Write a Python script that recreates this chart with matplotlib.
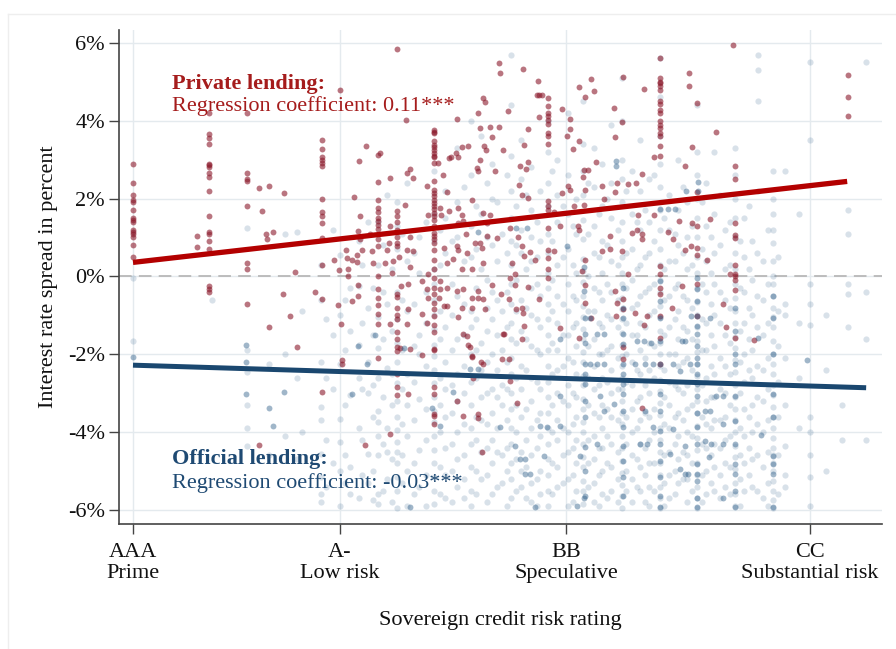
import matplotlib
matplotlib.use("Agg")
import matplotlib.pyplot as plt
from matplotlib.lines import Line2D

plt.rcParams["font.family"] = ["Liberation Serif", "DejaVu Serif"]

# x axis: sovereign rating in notches (1 = AAA), y axis: spread in percent
rating_ticks = [1.0, 7.0, 13.55, 20.62]
rating_labels = ["AAA\nPrime", "A-\nLow risk", "BB\nSpeculative", "CC\nSubstantial risk"]
spread_ticks = [6, 4, 2, 0, -2, -4, -6]
spread_labels = ["6%", "4%", "2%", "0%", "-2%", "-4%", "-6%"]

# fitted lines (end points)
private_fit_x = [1.0, 21.7]
private_fit_y = [0.36, 2.44]
official_fit_x = [1.0, 22.25]
official_fit_y = [-2.28, -2.86]

# private lending: stacked observations at one rating
private_columns = [
    (1.0, [2.9, 2.4, 2.1, 1.95, 1.9, 1.7, 1.5, 1.45, 1.4, 1.2, 1.15, 1.1, 1.0, 0.8, 0.5]),
    (3.2, [4.2, 3.65, 3.55, 3.4, 2.9, 2.85, 2.8, 2.65, 2.55, 2.2, 1.55, 1.15, 1.1, 0.9, 0.7,
           -0.25, -0.32, -0.4]),
    (4.3, [4.2, 2.65, 2.5, 2.45, 1.8, 0.35, 0.18, -0.7]),
    (6.47, [3.5, 3.27, 3.08, 2.98, 2.91, 2.83, 2.0, 1.65, 1.55, 1.38, 0.99, 0.29, -0.57, -2.96]),
    (8.1, [2.42, 1.95, 1.76, 1.65, 1.5, 1.42, 1.33, 1.21, 0.95, 0.78, 0.0, -0.33, -0.55, -0.74,
           -0.97, -1.23, -2.1]),
    (8.64, [1.67, 1.55, 1.39, 1.2, 1.0, 0.86, 0.78, -0.46, -0.53, -0.8, -1.0, -1.1, -1.44, -1.62,
            -1.81, -1.92, -2.51, -2.85, -3.05]),
    (9.73, [3.77, 3.72, 3.68, 3.47, 3.38, 3.32, 3.25, 3.17, 3.1, 3.07, 2.91, 2.44, 2.23, 2.14, 2.06,
            1.97, 1.89, 1.8, 1.72, 1.63, 1.55, 1.46, 1.29, 1.12, 1.03, 0.95, 0.86, 0.69, 0.43, 0.18,
            -0.04, -0.29, -0.46, -0.68, -0.85, -1.02, -1.25, -1.44, -1.87, -1.89, -2.85, -3.03,
            -3.54, -3.58, -3.79]),
    (13.02, [4.58, 4.38, 4.19, 4.11, 4.02, 3.91, 3.68, 3.6, 3.4, 1.93, 1.82, 1.7, 1.24, 0.69, 0.48,
             0.2, -0.05]),
    (16.28, [5.6, 5.09, 5.0, 4.96, 4.88, 4.79, 4.5, 4.43, 4.28, 4.2, 3.98, 3.9, 3.81, 3.68, 3.6,
             3.34, 3.1, 0.28, 0.05, -0.29, -0.46, -1.02, -1.57, -2.26]),
    (17.35, [4.45, 2.18, 1.29, 0.73, 0.56, -0.19, -1.02]),
    (18.44, [2.84, 2.51, 1.37, 1.07, 0.99, 0.3, 0.05, 0.01, -0.1, -0.35, -1.59]),
    (21.73, [5.18, 4.62, 4.11]),
]

# private lending: single observations, left part (AAA to A-)
private_left = [
    (2.85, 1.05), (2.85, 0.75), (4.65, 2.27), (4.95, 2.32), (5.37, 2.15), (4.73, 1.69),
    (4.85, 1.08), (5.06, 1.15), (4.87, 0.95), (5.69, 0.12), (5.34, -0.46), (5.55, -1.02),
    (4.95, -1.31), (5.74, -1.81), (4.65, -4.33), (6.28, -0.4), (7.0, 4.78), (7.75, 3.36),
    (7.56, 2.97), (7.41, 2.04), (7.58, 1.56), (7.53, 1.16), (7.87, 1.1), (7.17, 0.69),
    (7.63, 0.69), (7.92, 0.65), (6.83, 0.42), (7.34, 0.43), (7.48, 0.37), (7.95, 0.35),
    (6.98, 0.16), (7.22, 0.2), (7.58, 0.95), (7.49, 0.56), (7.19, 0.48), (7.23, 0.01),
    (7.52, -0.21), (7.52, -0.5), (7.35, -0.63), (6.94, -0.74), (7.02, -1.21), (7.05, -2.15),
    (7.05, -2.26), (7.72, -4.33),
]

# private lending: single observations, middle part (A- to BB)
private_mid = [
    (8.64, 5.83), (8.91, 4.01), (10.38, 4.04), (11.62, 5.48), (11.64, 5.22), (11.15, 4.58),
    (11.2, 4.47), (11.01, 4.19), (11.06, 3.81), (11.35, 3.85), (11.6, 3.85), (11.4, 3.58),
    (8.11, 3.12), (8.16, 3.18), (9.85, 2.91), (9.98, 2.61), (10.17, 3.04), (10.21, 3.08),
    (10.35, 3.18), (10.43, 3.07), (10.55, 3.32), (10.72, 3.34), (11.06, 3.0), (11.17, 3.34),
    (11.22, 3.24), (11.49, 2.7), (10.96, 2.78), (11.01, 2.7), (8.45, 2.53), (8.93, 2.66),
    (9.03, 2.76), (9.13, 2.53), (9.51, 2.33), (10.09, 2.18), (8.88, 1.84), (8.45, 1.29),
    (8.42, 0.86), (9.03, 1.0), (9.56, 1.59), (9.9, 1.76), (9.93, 1.59), (10.17, 1.67),
    (10.43, 1.76), (10.53, 1.59), (10.43, 1.37), (10.57, 1.42), (10.65, 1.08), (10.82, 1.97),
    (11.15, 1.63), (11.35, 1.59), (11.25, 1.37), (11.06, 0.86), (11.25, 1.03), (11.54, 0.99),
    (8.35, 0.69), (8.93, 0.69), (9.13, 0.65), (10.0, 0.73), (10.38, 0.77), (10.43, 0.67),
    (10.67, 0.6), (10.9, 0.86), (11.13, 0.73), (8.3, 0.35), (8.55, 0.39), (8.72, 0.5),
    (9.03, 0.24), (10.09, 0.35), (10.28, 0.45), (10.53, 0.18), (10.82, 0.18), (11.15, 0.35),
    (8.5, 0.09), (9.56, 0.05), (8.76, -0.25), (8.98, -0.19), (9.37, -0.12), (9.51, -0.33),
    (9.56, -0.55), (9.9, -0.12), (9.9, -0.33), (9.88, -0.55), (10.0, -0.76), (10.1, -0.76),
    (10.09, -0.29), (8.98, -0.85), (8.93, -1.23), (8.45, -1.23), (9.37, -0.96), (9.53, -1.19),
    (8.74, -1.85), (9.03, -1.87), (9.37, -2.02), (10.38, -0.38), (10.57, -0.33), (10.43, -1.04),
    (10.55, -0.8), (10.67, -1.53), (10.57, -1.49), (10.77, -1.81), (10.7, -1.77), (10.82, -0.55),
    (11.01, -0.55), (11.01, -0.38), (10.82, -0.8), (10.82, -2.04), (11.15, -0.59), (11.2, -0.85),
    (11.4, -0.21), (11.1, -2.21), (10.85, -2.62), (8.98, -3.03), (10.38, -3.21), (10.57, -3.58),
    (11.01, -3.54), (11.01, -3.64), (8.45, -4.04), (11.11, -4.5), (10.82, -2.08), (11.14, -2.26),
]

# private lending: single observations, right part (BB and below)
private_right = [
    (12.29, 5.33), (12.73, 5.01), (12.7, 4.66), (12.78, 4.66), (12.85, 4.66), (11.88, 4.26),
    (12.78, 4.09), (13.44, 4.3), (13.67, 4.04), (13.67, 3.78), (13.57, 3.61), (13.93, 4.86),
    (14.1, 4.6), (14.28, 5.07), (14.37, 4.77), (13.94, 3.49), (13.75, 3.27), (12.46, 3.79),
    (11.72, 3.25), (12.34, 3.38), (14.95, 4.32), (15.19, 5.13), (14.97, 3.58), (14.42, 2.95),
    (15.82, 4.81), (15.17, 3.97), (17.12, 5.22), (17.12, 4.89), (17.0, 2.84), (17.2, 3.32),
    (16.1, 3.08), (12.22, 2.83), (12.39, 2.76), (12.46, 2.95), (14.06, 2.74), (14.18, 2.74),
    (14.04, 2.55), (15.02, 2.4), (15.36, 2.37), (15.57, 2.4), (15.75, 2.64), (13.62, 2.31),
    (13.67, 2.23), (13.43, 2.14), (14.6, 2.31), (14.64, 1.99), (14.97, 2.16), (14.1, 2.23),
    (12.2, 2.36), (12.27, 2.08), (12.46, 2.01), (13.19, 1.65), (13.77, 1.8), (14.06, 1.84),
    (15.65, 1.59), (16.1, 1.57), (16.83, 1.42), (11.93, 1.24), (12.17, 1.01), (13.38, 1.3),
    (13.91, 1.29), (13.93, 1.18), (14.83, 1.03), (15.46, 1.12), (15.6, 1.18), (15.75, 1.1),
    (15.75, 0.95), (16.52, 1.14), (17.2, 1.37), (12.27, 0.79), (12.51, 0.62), (12.66, 0.43),
    (12.32, 0.52), (13.19, 0.66), (14.1, 0.43), (14.59, 0.66), (14.83, 0.71), (15.17, 0.65),
    (17.0, 0.69), (17.17, 0.77), (16.66, 0.96), (11.98, 0.35), (14.01, 0.13), (15.36, 0.05),
    (12.06, 0.05), (18.4, 5.95), (17.89, 3.72), (17.72, 1.48), (17.64, 0.42), (18.3, 0.05),
    (11.93, -0.03), (12.07, -0.22), (11.67, -0.46), (11.91, -0.59), (12.46, -0.27), (12.78, -0.59),
    (12.1, -0.85), (12.27, -0.8), (12.3, -0.93), (12.34, -1.27), (11.74, -1.47), (12.27, -1.62),
    (13.38, -1.32), (13.93, -1.57), (14.1, -0.21), (14.1, -0.68), (14.97, -0.38), (15.02, -0.68),
    (15.2, -0.59), (15.2, -0.85), (15.2, -1.81), (15.2, -2.13), (15.0, -1.02), (15.55, -0.93),
    (15.81, -1.25), (15.89, -1.02), (16.62, -0.8), (16.91, -0.25), (14.27, -1.06), (11.69, -2.13),
    (11.91, -2.13), (11.93, -2.68), (12.12, -3.24), (15.75, -3.39), (11.72, -1.49),
    (18.09, -0.7), (18.18, -1.29), (19.0, -1.64),
]

# official lending: the light cloud, by rating
official_columns = [
    (1.0, [-0.05, -1.65]), (3.3, [-0.6]),
    (4.3, [1.25, -1.9, -2.45, -3.3, -3.9, -4.35]),
    (4.95, [-2.25, -4.6]), (5.4, [1.1, -2.0, -4.1]), (5.75, [1.15, -2.6, -4.7]), (5.9, [-0.9, -4.0]),
    (6.45, [0.3, -0.6, -2.2, -3.35, -3.7, -4.55, -5.15, -5.6, -5.8]),
    (6.8, [1.2, -1.5, -2.9, -4.8]),
    (7.0, [0.55, -1.0, -2.25, -3.65, -4.25, -5.0, -5.9]),
    (7.3, [-0.3, -1.4, -3.05, -4.9, -5.6]),
    (7.55, [0.9, -0.25, -1.75, -2.6, -3.9, -5.7]),
    (7.8, [1.4, -0.8, -2.2, -3.0, -4.55, -5.3]),
    (8.1, [1.4, 0.3, -1.05, -1.85, -2.6, -3.45, -3.75, -4.1, -4.6, -5.6, -5.85]),
    (8.35, [2.1, -0.7, -2.35, -3.9, -4.5, -5.2]),
    (8.65, [1.9, 1.3, 0.7, -0.4, -1.1, -1.7, -2.2, -2.75, -3.2, -3.6, -3.95, -4.25, -4.5, -4.8,
            -5.15, -5.5, -5.95]),
    (8.95, [2.4, 0.4, -0.9, -2.5, -3.3, -4.1, -5.0, -5.9]),
    (9.3, [1.0, 0.1, -1.5, -2.0, -3.15, -4.45, -5.4]),
    (9.73, [2.7, 1.6, 0.9, 0.2, -0.2, -0.6, -1.0, -1.35, -1.75, -2.05, -2.4, -2.75, -3.1, -3.45,
            -3.75, -4.1, -4.45, -4.8, -5.15, -5.5, -5.85]),
    (10.05, [2.2, 1.5, 0.6, -1.3, -2.2, -2.9, -3.6, -4.4, -5.1, -5.7]),
    (10.4, [3.3, 1.9, 1.0, -0.5, -1.6, -2.5, -3.2, -4.0, -4.7, -5.4]),
    (10.8, [4.0, 2.6, 1.3, 0.5, -0.9, -1.3, -2.0, -2.7, -3.3, -3.9, -4.3, -4.9, -5.5, -5.9]),
    (11.1, [3.6, 1.6, 0.2, -1.7, -2.4, -3.1, -3.7, -4.5, -5.2]),
    (11.4, [2.9, 2.0, 0.8, -0.4, -1.1, -2.0, -2.9, -3.5, -4.2, -4.8, -5.6]),
    (11.7, [1.1, -0.9, -1.9, -2.8, -3.3, -4.6, -5.3]),
    (11.95, [5.7, 4.4, 3.1, 2.2, 1.5, 0.9, 0.3, -0.2, -0.7, -1.2, -1.6, -2.1, -2.5, -3.0, -3.4,
             -3.9, -4.3, -4.8, -5.2, -5.7]),
    (12.25, [3.5, 2.5, 1.2, 0.6, -0.6, -1.4, -2.3, -2.9, -3.6, -4.5, -5.0, -5.4]),
    (12.55, [2.8, 1.7, 1.0, 0.4, -0.3, -1.0, -1.8, -2.6, -3.2, -3.9, -4.6, -5.3, -5.8]),
    (12.8, [2.2, 0.9, -0.5, -1.3, -2.0, -2.9, -3.5, -4.1, -5.0, -5.6]),
    (13.02, [4.0, 3.2, 2.4, 1.8, 1.1, 0.6, 0.1, -0.3, -0.7, -1.1, -1.5, -1.9, -2.3, -2.7, -3.1,
             -3.5, -3.9, -4.3, -4.7, -5.1, -5.5, -5.9]),
    (13.3, [3.0, 2.1, 1.4, 0.3, -0.5, -1.2, -1.9, -2.4, -3.0, -3.7, -4.2, -4.9, -5.4]),
    (13.6, [4.2, 2.6, 1.6, 0.7, -0.2, -0.9, -1.5, -2.1, -2.8, -3.3, -4.0, -4.5, -5.2, -5.9]),
    (13.85, [2.0, 1.1, 0.1, -0.6, -1.2, -1.8, -2.5, -3.1, -3.6, -4.2, -4.8, -5.5]),
    (14.05, [4.5, 3.4, 2.7, 2.1, 1.45, 0.95, 0.45, 0.15, -0.15, -0.5, -0.75, -1.05, -1.35, -1.6,
             -1.95, -2.2, -2.55, -2.8, -3.15, -3.4, -3.75, -4.0, -4.3, -4.65, -4.9, -5.25, -5.5,
             -5.85]),
    (14.35, [3.3, 2.3, 1.3, 0.6, -0.3, -0.9, -1.6, -2.3, -2.9, -3.5, -4.1, -4.7, -5.3, -5.8]),
    (14.6, [2.9, 1.8, 0.9, 0.1, -0.6, -1.3, -2.0, -2.6, -3.3, -3.9, -4.4, -5.0, -5.6]),
    (14.85, [3.9, 2.4, 1.5, 0.4, -0.4, -1.1, -1.8, -2.4, -3.0, -3.6, -4.3, -4.9, -5.5]),
    (15.17, [5.1, 4.0, 3.0, 2.5, 1.9, 1.4, 0.9, 0.5, 0.1, -0.2, -0.55, -0.85, -1.1, -1.45, -1.75,
             -2.05, -2.3, -2.6, -2.9, -3.2, -3.5, -3.8, -4.1, -4.4, -4.75, -5.05, -5.35, -5.65,
             -5.95]),
    (15.45, [2.7, 1.6, 0.7, -0.1, -0.8, -1.5, -2.2, -2.8, -3.4, -4.0, -4.6, -5.2, -5.8]),
    (15.7, [3.5, 2.2, 1.2, 0.3, -0.5, -1.2, -1.9, -2.5, -3.1, -3.7, -4.3, -4.9, -5.5]),
    (15.95, [2.5, 1.4, 0.6, -0.3, -1.0, -1.7, -2.4, -3.0, -3.6, -4.2, -4.8, -5.4, -5.9]),
    (16.28, [5.6, 4.6, 3.6, 2.9, 2.3, 1.7, 1.2, 0.7, 0.3, -0.1, -0.4, -0.75, -1.05, -1.4, -1.7,
             -2.0, -2.3, -2.65, -2.95, -3.25, -3.55, -3.9, -4.2, -4.5, -4.8, -5.1, -5.4, -5.7,
             -5.95]),
    (16.55, [2.1, 1.2, 0.4, -0.5, -1.3, -2.0, -2.7, -3.3, -3.9, -4.5, -5.1, -5.7]),
    (16.8, [3.0, 1.7, 0.8, -0.2, -0.9, -1.6, -2.3, -2.9, -3.5, -4.1, -4.7, -5.3]),
    (17.05, [1.9, 1.0, 0.2, -0.6, -1.4, -2.1, -2.8, -3.4, -4.0, -4.6, -5.2, -5.8]),
    (17.35, [4.4, 3.2, 2.6, 2.0, 1.5, 1.0, 0.5, 0.1, -0.3, -0.65, -1.0, -1.3, -1.65, -1.95, -2.25,
             -2.55, -2.9, -3.2, -3.5, -3.85, -4.15, -4.45, -4.8, -5.1, -5.4, -5.7, -5.95]),
    (17.6, [2.4, 1.3, 0.4, -0.4, -1.2, -1.9, -2.6, -3.2, -3.8, -4.4, -5.0, -5.6]),
    (17.85, [3.2, 1.6, 0.6, -0.2, -1.0, -1.8, -2.5, -3.1, -3.7, -4.3, -4.9, -5.5]),
    (18.15, [1.2, 0.2, -0.6, -1.5, -2.3, -3.0, -3.6, -4.2, -4.8, -5.4]),
    (18.45, [3.3, 2.6, 2.0, 1.5, 1.0, 0.6, 0.2, -0.2, -0.55, -0.9, -1.2, -1.55, -1.85, -2.15,
             -2.45, -2.8, -3.1, -3.4, -3.7, -4.0, -4.35, -4.65, -4.95, -5.3, -5.6, -5.9]),
    (18.7, [1.5, 0.5, -0.4, -1.2, -2.0, -2.7, -3.4, -4.1, -4.8, -5.5]),
    (18.95, [0.9, -0.1, -1.0, -1.9, -2.6, -3.3, -4.0, -4.7, -5.4]),
    (19.12, [5.7, 5.3, 4.5, 2.2]),
    (19.25, [0.4, -0.6, -1.5, -2.4, -3.2, -4.0, -4.9, -5.7]),
    (19.55, [2.7, 2.0, 1.6, 1.2, 0.85, 0.4, 0.0, -0.2, -0.5, -0.8, -1.05, -1.3, -1.65, -2.0,
             -2.25, -2.5, -2.8, -3.05, -3.35, -3.6, -3.9, -4.15, -4.4, -4.6, -4.8, -5.0, -5.25,
             -5.5, -5.75, -5.95]),
    (19.9, [2.7, -0.7, -1.0, -2.1, -3.3, -4.35, -5.1, -5.4]),
    (20.3, [1.6, -1.2, -2.6, -3.9]),
    (20.62, [5.5, 3.5, -0.2, -0.7, -1.25, -3.6, -4.0, -4.6, -5.15, -5.9]),
    (21.1, [-1.0, -2.4, -5.0]),
    (21.55, [-4.2, -3.3]),
    (21.73, [1.7, 1.1, -0.2, -0.45, -1.3]),
    (22.25, [5.5, -0.4, -1.6, -4.2]),
]

# official lending: more of the light cloud between the rating columns
official_columns_between = [
    (6.6, [-1.1, -2.6, -4.2, -5.4]), (7.15, [-0.6, -1.9, -3.3, -4.6, -5.3]),
    (7.65, [0.3, -1.2, -2.9, -4.2, -5.1]), (7.95, [-0.3, -1.5, -2.8, -3.6, -5.0, -5.75]),
    (8.25, [0.8, -0.4, -1.6, -3.1, -4.3, -5.5]), (8.5, [0.2, -1.4, -2.5, -3.3, -4.7, -5.8]),
    (8.8, [1.1, -0.6, -1.9, -2.9, -3.8, -4.6, -5.3]), (9.15, [0.6, -0.7, -1.8, -2.7, -3.7, -4.8, -5.6]),
    (9.5, [1.4, -0.4, -1.2, -2.3, -3.4, -4.2, -5.1, -5.9]),
    (9.9, [1.2, 0.3, -0.9, -1.6, -2.6, -3.3, -4.0, -4.9, -5.6]),
    (10.25, [0.9, -0.2, -1.0, -1.9, -2.8, -3.5, -4.3, -5.0, -5.8]),
    (10.6, [2.3, 0.4, -0.7, -1.5, -2.3, -3.0, -3.8, -4.6, -5.2, -5.7]),
    (10.95, [1.8, 0.7, -0.3, -1.1, -1.9, -2.6, -3.6, -4.2, -5.0, -5.6]),
    (11.25, [2.4, 1.0, -0.1, -0.8, -1.4, -2.2, -3.0, -3.8, -4.4, -5.1, -5.8]),
    (11.55, [1.9, 0.4, -0.6, -1.5, -2.4, -3.1, -3.9, -4.5, -5.4]),
    (11.85, [2.6, 0.6, -0.4, -1.3, -2.2, -2.9, -3.7, -4.4, -5.0, -5.9]),
    (12.1, [1.8, 0.8, -0.1, -0.9, -1.7, -2.6, -3.3, -4.0, -4.7, -5.5]),
    (12.4, [2.1, 0.2, -0.8, -1.6, -2.4, -3.4, -4.2, -4.9, -5.7]),
    (12.7, [1.4, 0.5, -0.2, -1.1, -1.9, -2.7, -3.7, -4.4, -5.2, -5.9]),
    (13.15, [2.7, 0.9, -0.1, -0.9, -1.7, -2.5, -3.3, -4.0, -4.8, -5.6]),
    (13.45, [1.8, 0.5, -0.7, -1.5, -2.3, -3.2, -3.9, -4.6, -5.3]),
    (13.75, [1.3, 0.3, -0.5, -1.3, -2.2, -3.0, -3.8, -4.4, -5.1, -5.8]),
    (14.2, [2.4, 1.1, 0.0, -0.9, -1.8, -2.6, -3.3, -4.2, -4.8, -5.4]),
    (14.5, [1.6, 0.5, -0.4, -1.2, -2.0, -2.8, -3.6, -4.4, -5.1, -5.9]),
    (14.75, [2.0, 0.8, -0.2, -1.0, -1.9, -2.7, -3.4, -4.1, -4.8, -5.7]),
    (15.05, [1.2, 0.3, -0.6, -1.3, -2.1, -2.9, -3.7, -4.5, -5.2, -5.8]),
    (15.3, [2.2, 0.6, -0.3, -1.2, -2.0, -2.7, -3.6, -4.3, -5.0, -5.5]),
    (15.6, [1.4, 0.2, -0.7, -1.5, -2.4, -3.2, -3.9, -4.7, -5.4]),
    (15.85, [1.7, 0.5, -0.4, -1.3, -2.1, -2.8, -3.5, -4.4, -5.1, -5.8]),
    (16.1, [2.6, 0.9, -0.2, -0.9, -1.8, -2.6, -3.4, -4.0, -4.8, -5.5]),
    (16.4, [1.5, 0.2, -0.6, -1.5, -2.4, -3.1, -3.8, -4.6, -5.3, -5.9]),
    (16.7, [1.1, 0.4, -0.3, -1.1, -2.0, -2.8, -3.6, -4.3, -5.0, -5.6]),
    (16.95, [2.3, 0.6, -0.5, -1.3, -2.2, -3.0, -3.7, -4.5, -5.2]),
    (17.2, [1.3, 0.3, -0.8, -1.6, -2.4, -3.3, -4.1, -4.8, -5.5]),
    (17.5, [1.9, 0.7, -0.2, -1.1, -1.9, -2.8, -3.6, -4.3, -5.1, -5.8]),
    (17.75, [1.0, 0.1, -0.7, -1.5, -2.3, -3.1, -3.9, -4.6, -5.3]),
    (18.0, [2.1, 0.8, -0.4, -1.2, -2.1, -2.9, -3.7, -4.4, -5.1, -5.7]),
    (18.3, [1.4, 0.3, -0.8, -1.7, -2.5, -3.3, -4.1, -4.9, -5.6]),
    (18.6, [0.9, -0.3, -1.4, -2.2, -3.0, -3.9, -4.6, -5.2, -5.9]),
    (18.85, [1.8, 0.2, -0.8, -1.6, -2.4, -3.6, -4.4, -5.1]),
    (19.1, [0.6, -0.5, -1.3, -2.3, -3.1, -3.8, -4.6, -5.5]),
    (19.4, [1.2, -0.2, -1.2, -2.1, -2.9, -3.7, -4.5, -5.3, -5.9]),
    (19.7, [0.5, -0.9, -1.8, -2.7, -3.6, -4.6, -5.6]),
]

# official lending: repeated observations that show up darker
official_dense_columns = [
    (14.1, [-1.06, -1.49, -1.7, -2.26, -2.51, -2.77, -3.2, -3.62, -4.39, -4.99, -5.63]),
    (15.2, [-0.29, -0.8, -1.06, -1.49, -1.74, -2.26, -2.51, -2.77, -3.03, -3.45, -3.88, -4.35,
            -4.74, -5.16, -5.63]),
    (16.28, [-0.12, -0.63, -1.06, -1.66, -2.26, -3.03, -3.45, -3.97, -4.31, -4.74, -5.16, -5.63,
             -5.93]),
    (17.35, [-0.03, -0.33, -0.63, -1.02, -1.27, -1.49, -1.79, -2.09, -2.26, -2.51, -2.77, -3.07,
             -3.5, -3.88, -4.31, -4.82, -5.08, -5.25, -5.68, -5.93]),
    (18.45, [-0.8, -1.4, -2.0, -2.26, -3.07, -3.71, -4.31, -4.82, -5.08, -5.5, -5.93]),
    (19.55, [-0.5, -1.06, -2.0, -3.03, -3.62, -4.61, -4.82, -5.08, -5.93]),
]

official_dense_points = [
    (1.0, -2.08), (4.28, -1.76), (4.28, -2.2), (4.28, -3.03), (4.94, -3.37), (5.06, -3.84),
    (5.38, -2.98), (7.34, -3.03), (7.53, -1.79), (7.77, -2.26), (8.01, -1.51), (8.86, -1.85),
    (9.68, -3.37), (9.9, -3.84), (10.28, -2.98), (10.77, -2.39), (11.01, -2.39), (9.03, -5.93),
    (11.64, -3.88), (12.07, -4.35), (12.22, -4.69), (12.36, -4.69), (12.36, -5.08), (12.51, -5.08),
    (12.65, -5.93), (12.8, -3.84), (13.0, -3.88), (12.9, -4.61), (13.38, -3.84), (13.38, -3.07),
    (13.38, -1.62), (13.96, -4.61), (14.06, -5.68), (13.86, -5.89), (14.25, -1.06), (14.44, -1.49),
    (14.64, -1.49), (14.25, -2.26), (14.44, -2.26), (14.64, -2.26), (14.54, -3.07), (14.64, -3.45),
    (14.93, -3.28), (14.44, -4.31), (15.55, -2.24), (15.84, -2.24), (16.08, -2.26), (16.66, -2.26),
    (15.6, -1.66), (15.8, -1.66), (16.0, -1.7), (16.9, -1.66), (17.0, -1.66), (16.86, -2.43),
    (15.84, -3.45), (16.08, -3.88), (16.66, -3.92), (17.0, -4.35), (15.7, -4.31), (15.89, -4.31),
    (16.57, -4.56), (16.86, -4.95), (17.0, -5.08), (17.1, -5.08), (17.17, -1.02), (17.14, -2.24),
    (17.57, -3.45), (17.72, -3.45), (17.91, -3.07), (18.09, -3.07), (17.57, -4.22), (17.74, -4.31),
    (18.09, -4.31), (18.11, -3.8), (19.19, -4.07), (18.11, -5.68), (17.7, -4.65), (20.54, -2.15),
    (19.12, -1.57), (17.72, -1.06), (15.0, 2.96), (15.0, 2.83), (17.37, 2.42), (17.37, 2.19),
    (17.04, 2.2), (12.1, 1.25), (12.41, 1.25), (11.0, 1.13), (13.57, 0.79), (16.28, 1.72),
    (16.5, 1.72), (16.7, 1.72), (14.07, 0.23), (14.07, -0.38),
]


def unpack(columns, points):
    xs, ys = [], []
    for x, values in columns:
        xs += [x] * len(values)
        ys += values
    for x, y in points:
        xs.append(x)
        ys.append(y)
    return xs, ys


red_line = "#b30000"
red_text = "#a51c1c"
blue_line = "#1a476f"
blue_text = "#1f4a73"
font_size = 16

fig = plt.figure(figsize=(8.96, 6.49), dpi=100)
ax = fig.add_axes([0.1328, 0.1926, 0.8516, 0.7612])

ax.set_xlim(0.594, 22.71)
ax.set_ylim(-6.36, 6.33)

ax.grid(True, color="#e4eaee", linewidth=1.0, zorder=0)
ax.set_axisbelow(True)
ax.axhline(0, color="#b8b8b8", linewidth=1.3, dashes=(7, 4), zorder=1)

ox, oy = unpack(official_columns + official_columns_between, [])
ax.scatter(ox, oy, s=20, color="#2c5d88", alpha=0.18, linewidths=0, zorder=2)

px, py = unpack(private_columns, private_left + private_mid + private_right)
ax.scatter(px, py, s=18, color="#8b1a2b", alpha=0.6, linewidths=0, zorder=3)

dx, dy = unpack(official_dense_columns, official_dense_points)
ax.scatter(dx, dy, s=18, color="#2c5d88", alpha=0.45, linewidths=0, zorder=3)

ax.plot(private_fit_x, private_fit_y, color=red_line, linewidth=3.8, solid_capstyle="butt", zorder=5)
ax.plot(official_fit_x, official_fit_y, color=blue_line, linewidth=3.6, solid_capstyle="butt", zorder=5)

ax.text(2.13, 4.95, "Private lending:", color=red_text, fontsize=font_size, fontweight="bold",
        va="center", ha="left", zorder=6)
ax.text(2.13, 4.38, "Regression coefficient: 0.11***", color=red_text, fontsize=font_size,
        va="center", ha="left", zorder=6)
ax.text(2.13, -4.69, "Official lending:", color=blue_text, fontsize=font_size, fontweight="bold",
        va="center", ha="left", zorder=6)
ax.text(2.13, -5.31, "Regression coefficient: -0.03***", color=blue_text, fontsize=font_size,
        va="center", ha="left", zorder=6)

ax.set_xticks(rating_ticks)
ax.set_xticklabels(rating_labels, fontsize=font_size, linespacing=1.1)
ax.set_yticks(spread_ticks)
ax.set_yticklabels(spread_labels, fontsize=font_size)
ax.tick_params(axis="both", direction="out", length=7, width=1.0, color="#444444",
               labelcolor="#111111")
ax.tick_params(axis="y", pad=3)
ax.tick_params(axis="x", pad=7)

for side in ["top", "right"]:
    ax.spines[side].set_visible(False)
for side in ["left", "bottom"]:
    ax.spines[side].set_color("#444444")
    ax.spines[side].set_linewidth(1.2)

ax.set_xlabel("Sovereign credit risk rating", fontsize=font_size, labelpad=20, color="#111111")
ax.set_ylabel("Interest rate spread in percent", fontsize=font_size, labelpad=7, color="#111111")

# faint frame of the original graph region
fig.add_artist(Line2D([0.009, 1.0], [0.978, 0.978], color="#eeeeee", linewidth=1.0))
fig.add_artist(Line2D([0.009, 0.009], [0.0, 0.978], color="#eeeeee", linewidth=1.0))

fig.savefig("out.png", dpi=100)
